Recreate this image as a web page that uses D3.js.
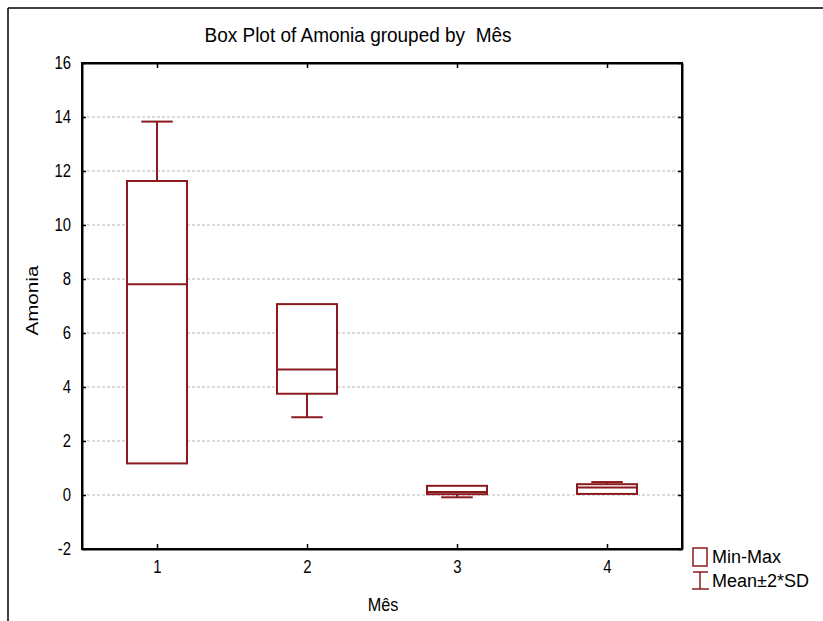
<!DOCTYPE html>
<html>
<head>
<meta charset="utf-8">
<script src="https://cdn.jsdelivr.net/npm/d3@7"></script>
<style>
  body { margin: 0; background: #fff; }
  svg { font-family: "Liberation Sans", Arial, sans-serif; }
</style>
</head>
<body>
<svg id="chart" width="823" height="621"></svg>
<script>
// values
var meses = [1, 2, 3, 4];
var boxMin = [1.17, 3.75, 0.03, 0.04];
var boxMax = [11.63, 7.07, 0.34, 0.40];
var means = [7.81, 4.65, 0.11, 0.28];
var sdLow = [1.81, 2.88, -0.085, 0.08];
var sdHigh = [13.83, 6.42, 0.305, 0.48];
var yTicks = [-2, 0, 2, 4, 6, 8, 10, 12, 14, 16];

var red = '#8b1a1e';
var svg = d3.select('#chart');

var x = d3.scaleLinear().domain([0.5, 4.5]).range([82, 682]);
var y = d3.scaleLinear().domain([-2, 16]).range([549, 63]);

var rows = meses.map(function (m, i) {
  return { m: m, lo: boxMin[i], hi: boxMax[i], mean: means[i], wl: sdLow[i], wh: sdHigh[i] };
});

// text in the original looks a bit tall and narrow
function squeeze(sel, f) {
  sel.each(function () {
    var w = this.getComputedTextLength();
    d3.select(this).attr('textLength', w * f).attr('lengthAdjust', 'spacingAndGlyphs');
  });
}

// outer border
svg.append('line').attr('x1', 8).attr('y1', 8).attr('x2', 823).attr('y2', 8)
  .attr('stroke', '#000').attr('stroke-width', 1.5);
svg.append('line').attr('x1', 8).attr('y1', 8).attr('x2', 8).attr('y2', 621)
  .attr('stroke', '#000').attr('stroke-width', 1.5);

// gridlines
svg.append('g').selectAll('line').data(yTicks.slice(1, -1)).enter().append('line')
  .attr('x1', x(0.5)).attr('x2', x(4.5))
  .attr('y1', function (d) { return y(d); }).attr('y2', function (d) { return y(d); })
  .attr('stroke', '#b4b4b4').attr('stroke-width', 1).attr('stroke-dasharray', '3,2');

// axes
var fmt = function (d) { return String(d); };
var axLeft = svg.append('g').attr('transform', 'translate(' + x(0.5) + ',0)')
  .call(d3.axisLeft(y).tickValues(yTicks).tickSizeInner(-4).tickSizeOuter(0).tickPadding(11).tickFormat(fmt));
var axRight = svg.append('g').attr('transform', 'translate(' + x(4.5) + ',0)')
  .call(d3.axisRight(y).tickValues(yTicks).tickSizeInner(-4).tickSizeOuter(0).tickFormat(''));
var axBottom = svg.append('g').attr('transform', 'translate(0,' + y(-2) + ')')
  .call(d3.axisBottom(x).tickValues(meses).tickSizeInner(-5).tickSizeOuter(0).tickPadding(12).tickFormat(fmt));
var axTop = svg.append('g').attr('transform', 'translate(0,' + y(16) + ')')
  .call(d3.axisTop(x).tickValues(meses).tickSizeInner(-5).tickSizeOuter(0).tickFormat(''));

[axLeft, axRight, axBottom, axTop].forEach(function (ax) {
  ax.select('.domain').attr('stroke', '#000').attr('stroke-width', 2);
  ax.selectAll('.tick line').attr('stroke', '#000').attr('stroke-width', 1.5);
  ax.selectAll('.tick text').attr('font-size', 17.5).attr('fill', '#000')
    .attr('font-family', '"Liberation Sans", Arial, sans-serif');
});
squeeze(axLeft.selectAll('.tick text'), 0.85);
squeeze(axBottom.selectAll('.tick text'), 0.85);

// frame
svg.append('rect').attr('x', x(0.5)).attr('y', y(16)).attr('width', x(4.5) - x(0.5))
  .attr('height', y(-2) - y(16)).attr('fill', 'none').attr('stroke', '#000').attr('stroke-width', 2);

var bw = x(1.2) - x(1);   // half box width
var cw = x(1.105) - x(1); // half cap width

var g = svg.append('g');
// whiskers from mean to mean±2SD
rows.forEach(function (r) {
  var cx = x(r.m);
  [r.wl, r.wh].forEach(function (v) {
    g.append('line').attr('x1', cx).attr('x2', cx).attr('y1', y(r.mean)).attr('y2', y(v))
      .attr('stroke', red).attr('stroke-width', 2);
    g.append('line').attr('x1', cx - cw).attr('x2', cx + cw).attr('y1', y(v)).attr('y2', y(v))
      .attr('stroke', red).attr('stroke-width', 2);
  });
});
// boxes min-max
g.selectAll('rect.box').data(rows).enter().append('rect').attr('class', 'box')
  .attr('x', function (d) { return x(d.m) - bw; })
  .attr('width', 2 * bw)
  .attr('y', function (d) { return y(d.hi); })
  .attr('height', function (d) { return y(d.lo) - y(d.hi); })
  .attr('fill', '#fff').attr('stroke', red).attr('stroke-width', 2);
// mean lines
g.selectAll('line.mean').data(rows).enter().append('line').attr('class', 'mean')
  .attr('x1', function (d) { return x(d.m) - bw; })
  .attr('x2', function (d) { return x(d.m) + bw; })
  .attr('y1', function (d) { return y(d.mean); })
  .attr('y2', function (d) { return y(d.mean); })
  .attr('stroke', red).attr('stroke-width', 2);

// titles
svg.append('text').attr('x', 358).attr('y', 42).attr('text-anchor', 'middle')
  .attr('font-size', 20).style('white-space', 'pre')
  .attr('textLength', 307).attr('lengthAdjust', 'spacingAndGlyphs')
  .text('Box Plot of Amonia grouped by  Mês');
svg.append('text').attr('x', 383).attr('y', 611).attr('text-anchor', 'middle')
  .attr('font-size', 18).text('Mês').call(squeeze, 0.9);
svg.append('text').attr('transform', 'translate(38,' + y(7.2) + ') rotate(-90)')
  .attr('text-anchor', 'middle').attr('font-size', 16.5)
  .attr('textLength', 70).attr('lengthAdjust', 'spacingAndGlyphs').text('Amonia');

// legend
var lg = svg.append('g');
lg.append('rect').attr('x', 693).attr('y', 548).attr('width', 14).attr('height', 18)
  .attr('fill', '#fff').attr('stroke', red).attr('stroke-width', 1.5);
lg.append('line').attr('x1', 700).attr('x2', 700).attr('y1', 572).attr('y2', 589)
  .attr('stroke', red).attr('stroke-width', 1.5);
lg.append('line').attr('x1', 693).attr('x2', 708).attr('y1', 572).attr('y2', 572)
  .attr('stroke', red).attr('stroke-width', 1.5);
lg.append('line').attr('x1', 692).attr('x2', 709).attr('y1', 589).attr('y2', 589)
  .attr('stroke', red).attr('stroke-width', 1.5);
lg.append('text').attr('x', 712).attr('y', 563).attr('font-size', 18).text('Min-Max');
lg.append('text').attr('x', 712).attr('y', 587).attr('font-size', 18).text('Mean±2*SD');
</script>
</body>
</html>
